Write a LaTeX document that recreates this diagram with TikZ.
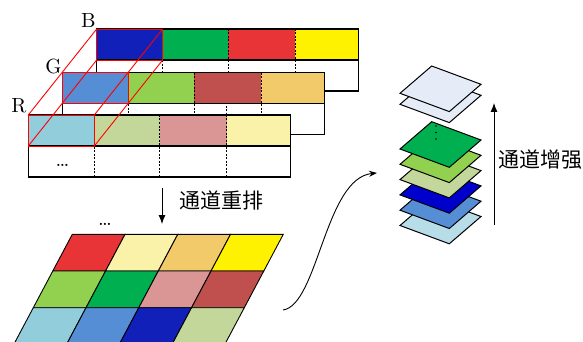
\documentclass[tikz,border=0pt]{standalone}
\usepackage{fontspec}
\newfontfamily\cjk{Noto Sans CJK SC}
\usetikzlibrary{arrows.meta}
\definecolor{cDarkBlue}{HTML}{1020B8}
\definecolor{cGreen}{HTML}{00B050}
\definecolor{cRed}{HTML}{E83436}
\definecolor{cYellow}{HTML}{FFF200}
\definecolor{cBlue}{HTML}{558ED5}
\definecolor{cLGreen}{HTML}{92D050}
\definecolor{cBrown}{HTML}{C0504D}
\definecolor{cOrange}{HTML}{F2CA6A}
\definecolor{cLBlue}{HTML}{92CDDC}
\definecolor{cPGreen}{HTML}{C4D79B}
\definecolor{cPink}{HTML}{DA9694}
\definecolor{cPYellow}{HTML}{FAF2A8}
\definecolor{cPaper}{HTML}{E6ECF7}
\definecolor{cNavy}{HTML}{0000CC}
\definecolor{cSky}{HTML}{B7DDE8}
\newcommand\drawlayer[6]{%
  \begin{scope}[shift={(#1,#2)}]
    \fill[#3] (0,0) rectangle (66,31);
    \fill[#4] (66,0) rectangle (131.5,31);
    \fill[#5] (131.5,0) rectangle (198.5,31);
    \fill[#6] (198.5,0) rectangle (262,31);
    \fill[white] (0,31) rectangle (262,62);
    \foreach \xx in {66,131.5,198.5} \draw[sepline] (\xx,0) -- (\xx,62);
    \draw[outline] (0,31) -- (262,31);
    \draw[outline] (0,0) rectangle (262,62);
  \end{scope}}
\newcommand\stacksheet[2]{%
  \draw[sheet,fill=#2] (431.7,#1) -- ++(49.3,18.3) -- ++(-31.7,27.3) -- ++(-49.3,-18.3) -- cycle;}
\begin{document}
\begin{tikzpicture}[x=1pt,y=-1pt,
  outline/.style={draw=black,line width=1.1pt},
  sepline/.style={dashed,line width=0.7pt,dash pattern=on 2pt off 1.5pt},
  redline/.style={draw=red,line width=0.9pt},
  cell/.style={draw=black,line width=0.9pt},
  sheet/.style={draw=black,line width=1pt,line join=miter},
  lbl/.style={font=\normalsize,inner sep=0pt,scale=2.05},
  cjklbl/.style={font=\cjk\fontsize{21}{21}\selectfont,inner sep=0pt},
  arr/.style={line width=0.9pt,-{Latex[length=9pt,width=7pt]}}]
\clip (0,0) rectangle (583,342);
\fill[white] (0,0) rectangle (583,342);
% channel layers
\drawlayer{96.7}{29}{cDarkBlue}{cGreen}{cRed}{cYellow}
\drawlayer{62.7}{72.7}{cBlue}{cLGreen}{cBrown}{cOrange}
\draw[sepline] (226.7,106) -- (226.7,115);
\drawlayer{28.3}{115}{cLBlue}{cPGreen}{cPink}{cPYellow}
% red box
\draw[redline] (96.7,29) rectangle (162.7,60);
\draw[redline] (62.7,72.7) rectangle (128.7,103.7);
\draw[redline] (28.3,115) rectangle (94.3,146);
\draw[redline] (28.3,115) -- (96.7,29);
\draw[redline] (94.3,115) -- (162.7,29);
\draw[redline] (28.3,146) -- (96.7,60);
\draw[redline] (94.3,146) -- (162.7,60);
\node[lbl] (lB) at (88.5,21) {B};
\node[lbl] (lG) at (53.5,66.5) {G};
\node[lbl] (lR) at (19,106) {R};
\node[lbl] (dotsA) at (62.5,165) {\dots};
% rearrange arrow
\coordinate (d1) at (162,188);
\coordinate (d2) at (162,224);
\draw[arr] (d1) -- (d2);
\node[cjklbl] (reorder) at (221,200) {通道重排};
% grid
\foreach \r/\ca/\cb/\cc/\cd in {0/cRed/cPYellow/cOrange/cYellow,1/cLGreen/cGreen/cPink/cBrown,2/cLBlue/cBlue/cDarkBlue/cPGreen}{
  \foreach \c/\col in {0/\ca,1/\cb,2/\cc,3/\cd}{
    \draw[cell,fill=\col] ({72.3+52.75*\c-19.5*\r},{234.3+36.7*\r}) -- ++(52.75,0) -- ++(-19.5,36.7) -- ++(-52.75,0) -- cycle;
  }
}
\node[lbl] (dotsB) at (105,224) {\dots};
% curved arrow
\coordinate (c1) at (283,310);
\coordinate (c2) at (377,173);
\draw[line width=0.9pt,-{Stealth[length=8pt,width=6pt]}] (c1) .. controls (318,305) and (325,178) .. (c2);
% stacks
\stacksheet{77}{cPaper}
\stacksheet{66}{cPaper}
\stacksheet{198.2}{cSky}
\stacksheet{182.9}{cBlue}
\stacksheet{167.6}{cNavy}
\stacksheet{152.3}{cPGreen}
\stacksheet{137}{cLGreen}
\stacksheet{121.7}{cGreen}
\foreach \yy in {126,132.5,139} \fill (436,\yy) circle (0.9);
\coordinate (u1) at (494,225);
\coordinate (u2) at (494,103);
\draw[arr] (u1) -- (u2);
\node[cjklbl] (enhance) at (540,160) {通道增强};
\end{tikzpicture}
\end{document}
